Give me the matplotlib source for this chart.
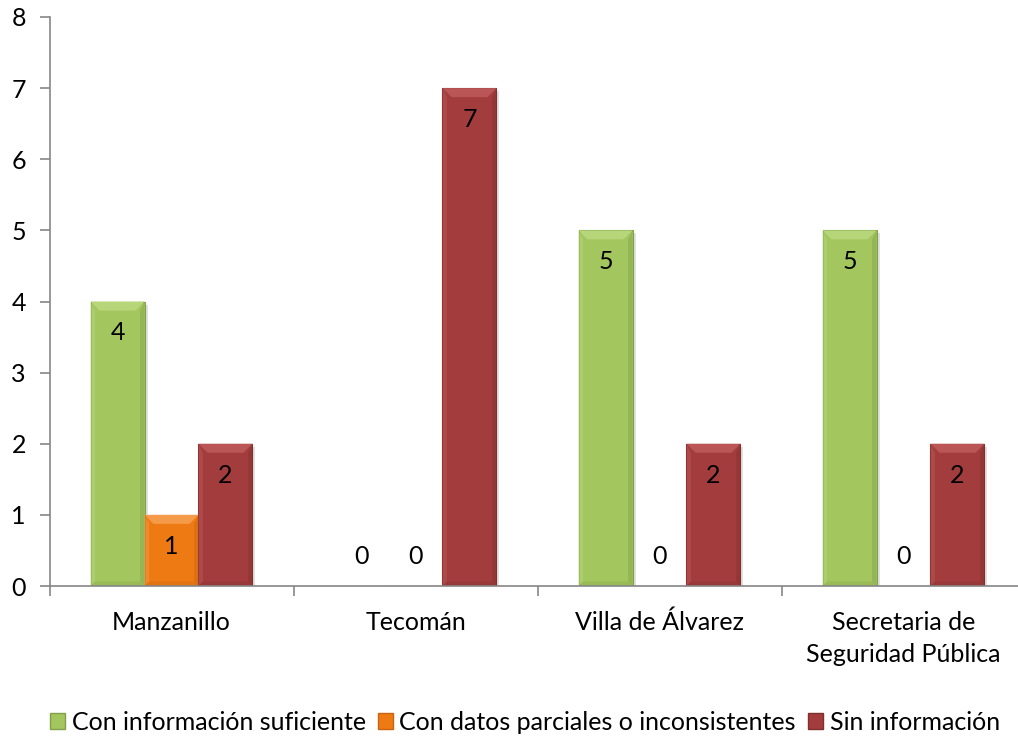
import matplotlib
matplotlib.use("Agg")
import matplotlib.pyplot as plt
import numpy as np
from matplotlib.patches import Polygon, Rectangle

plt.rcParams['font.family'] = ['Lato', 'DejaVu Sans']

categories = ["Manzanillo", "Tecomán", "Villa de Álvarez", "Secretaria de\nSeguridad Pública"]
series_names = ["Con información suficiente", "Con datos parciales o inconsistentes", "Sin información"]
suficiente = [4, 0, 5, 5]
parciales = [1, 0, 0, 0]
sin_info = [2, 7, 2, 2]
yticks = [0, 1, 2, 3, 4, 5, 6, 7, 8]

colors = ['#A3C65E', '#EE7A14', '#A33D3D']
light = ['#B7D67A', '#F59A48', '#BA5656']
dark = ['#82A04A', '#C9630F', '#812E2E']

W, H = 1018, 738
fig = plt.figure(figsize=(W / 100, H / 100), dpi=100)
ax_l = 49.5 / W
ax_r = 1025.5 / W
ax_b = 1 - 586 / H
ax_t = 1 - 17 / H
ax = fig.add_axes([ax_l, ax_b, ax_r - ax_l, ax_t - ax_b])

x = np.arange(len(categories))
bw = 0.2213
offsets = [-bw, 0, bw]
data = [suficiente, parciales, sin_info]

ax.set_xlim(-0.5, len(categories) - 0.5)
ax.set_ylim(0, 8)

px_x = (len(categories)) / (ax_r - ax_l) / W
px_y = 8 / (ax_t - ax_b) / H
bev_x = 9 * px_x
bev_y = 9 * px_y

for i, vals in enumerate(data):
    bars = ax.bar(x + offsets[i], vals, width=bw, color=colors[i],
                  edgecolor=dark[i], linewidth=0.8, label=series_names[i], zorder=3)
    for b, v in zip(bars, vals):
        if v <= 0:
            continue
        x0 = b.get_x(); x1 = x0 + b.get_width(); top = b.get_height()
        ax.add_patch(Rectangle((x0 + 3 * px_x, -3 * px_y), b.get_width(), top,
                               color='#000000', alpha=0.12, zorder=2, lw=0))
        ax.add_patch(Polygon([[x0, top], [x1, top], [x1 - bev_x, top - bev_y], [x0 + bev_x, top - bev_y]],
                             closed=True, facecolor=light[i], edgecolor='none', zorder=4))
        ax.add_patch(Polygon([[x0, top], [x0 + bev_x * 0.5, top - bev_y], [x0 + bev_x * 0.5, bev_y * 0.5], [x0, 0]],
                             closed=True, facecolor=light[i], alpha=0.5, edgecolor='none', zorder=4))
        ax.add_patch(Polygon([[x1, top], [x1 - bev_x * 0.5, top - bev_y], [x1 - bev_x * 0.5, bev_y * 0.5], [x1, 0]],
                             closed=True, facecolor=dark[i], alpha=0.4, edgecolor='none', zorder=4))
        ax.add_patch(Polygon([[x0, 0], [x1, 0], [x1 - bev_x * 0.5, bev_y * 0.5], [x0 + bev_x * 0.5, bev_y * 0.5]],
                             closed=True, facecolor=dark[i], alpha=0.3, edgecolor='none', zorder=4))
    for b, v in zip(bars, vals):
        ypos = v - 0.44 if v > 0 else 0.41
        ax.text(b.get_x() + b.get_width() / 2, ypos, str(v), ha='center', va='center',
                fontsize=18, color='black', zorder=6)

ax.set_yticks(yticks)
ax.set_yticklabels([str(t) for t in yticks], fontsize=18)
ax.set_xticks(x)
ax.set_xticklabels(categories, fontsize=18, linespacing=1.45)
ax.set_xticks(np.arange(len(categories) + 1) - 0.5, minor=True)
ax.tick_params(axis='x', which='major', length=0, pad=18)
ax.tick_params(axis='x', which='minor', length=7, color='#868686', width=1.2)
ax.tick_params(axis='y', length=7, color='#868686', width=1.2, pad=10)
for s in ['top', 'right']:
    ax.spines[s].set_visible(False)
for s in ['left', 'bottom']:
    ax.spines[s].set_color('#868686')
    ax.spines[s].set_linewidth(1.2)
    ax.spines[s].set_zorder(5)

handles = [Rectangle((0, 0), 1, 1, facecolor=colors[i], edgecolor=dark[i]) for i in range(3)]
fig.legend(handles, series_names, loc='center', bbox_to_anchor=(525 / W, 1 - 722 / H), ncol=3,
           frameon=False, fontsize=18, handlelength=0.6, handleheight=0.6, handletextpad=0.25,
           columnspacing=0.5)

fig.savefig('out.png', dpi=100)
